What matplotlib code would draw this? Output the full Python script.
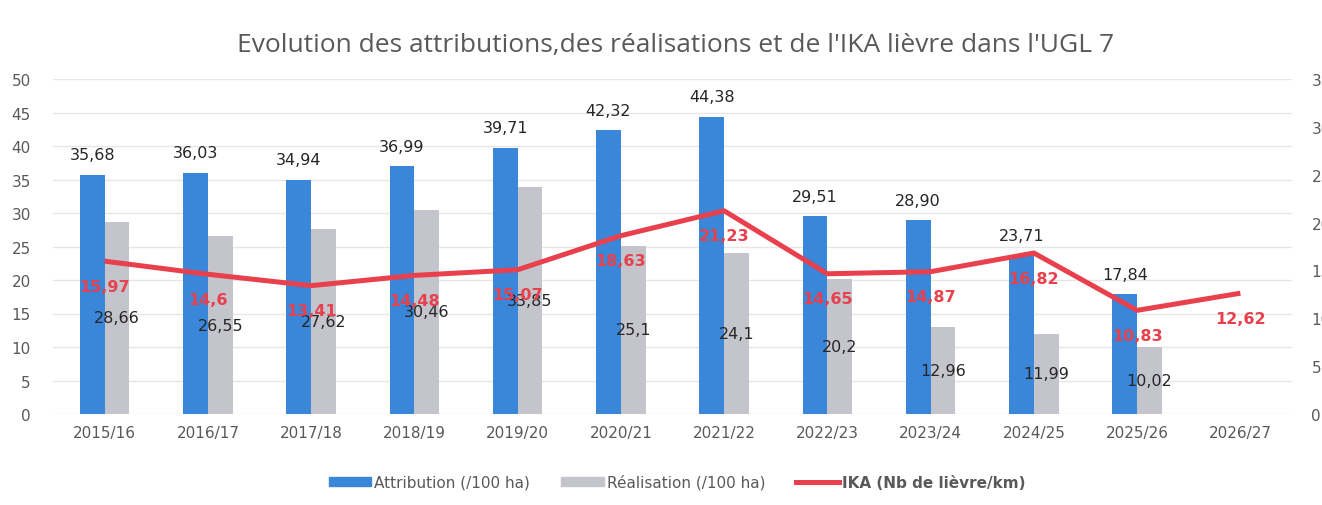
import matplotlib.pyplot as plt
import matplotlib.lines as mlines
import matplotlib.patches as mpatches
import numpy as np

# ---------- Data ----------
seasons = ["2015/16", "2016/17", "2017/18", "2018/19", "2019/20", "2020/21",
           "2021/22", "2022/23", "2023/24", "2024/25", "2025/26", "2026/27"]
attribution = [35.68, 36.03, 34.94, 36.99, 39.71, 42.32, 44.38, 29.51, 28.90, 23.71, 17.84]
attribution_lbl = ["35,68", "36,03", "34,94", "36,99", "39,71", "42,32", "44,38",
                   "29,51", "28,90", "23,71", "17,84"]
realisation = [28.66, 26.55, 27.62, 30.46, 33.85, 25.1, 24.1, 20.2, 12.96, 11.99, 10.02]
ika = [15.97, 14.6, 13.41, 14.48, 15.07, 18.63, 21.23, 14.65, 14.87, 16.82, 10.83, 12.62]

BLUE = "#3a86d9"
GREY = "#c4c4cc"
RED = "#e8404c"
TXT = "#595959"

def fr(v):
    return f"{v:g}".replace(".", ",")

# ---------- Layout ----------
fig = plt.figure(figsize=(13.22, 5.06), dpi=100)
ax = fig.add_axes([53 / 1322, 91 / 506, 1239 / 1322, 335 / 506])
ax2 = ax.twinx()

x = np.arange(len(seasons))
xb = x[:len(attribution)]
w = 0.24

ax.bar(xb - w / 2, attribution, width=w, color=BLUE, zorder=2)
ax.bar(xb + w / 2, realisation, width=w, color=GREY, zorder=2)

for i, v in enumerate(attribution):
    ax.annotate(attribution_lbl[i], (xb[i] - w / 2, v), xytext=(0, 9), textcoords="offset points",
                ha="center", va="bottom", fontsize=11.5, color="#262626")
for i, v in enumerate(realisation):
    ax.text(xb[i] + w / 2, v / 2, fr(v), ha="center", va="center", fontsize=11.5, color="#262626", zorder=4)

ax.set_xlim(-0.5, len(seasons) - 0.5)
ax.set_ylim(0, 50)
ax.set_yticks(range(0, 51, 5))
ax.set_xticks(x)
ax.set_xticklabels(seasons)
ax.grid(axis="y", color="#e6e6e6", linewidth=1, zorder=0)
ax.set_axisbelow(True)
for s in ax.spines.values():
    s.set_visible(False)
ax.tick_params(axis="both", length=0, labelsize=11, colors=TXT)
ax.tick_params(axis="y", pad=16)
ax.tick_params(axis="x", pad=8)

# ---------- IKA line on secondary axis ----------
ax2.plot(x, ika, color=RED, linewidth=3.6, zorder=3, solid_capstyle="butt")
for i, v in enumerate(ika):
    ax2.annotate(fr(v), (x[i], v), xytext=(0, -18), textcoords="offset points",
                 ha="center", va="center", fontsize=11.5, fontweight="bold", color=RED, zorder=5)
ax2.set_ylim(0, 35)
ax2.set_yticks(range(0, 36, 5))
for s in ax2.spines.values():
    s.set_visible(False)
ax2.tick_params(axis="y", length=0, labelsize=11, colors=TXT, pad=14)

fig.text(0.511, 0.91, "Evolution des attributions,des réalisations et de l'IKA lièvre dans l'UGL 7",
         ha="center", va="center", fontsize=19, color=TXT, family="Open Sans")

# ---------- Legend ----------
handles = [
    mpatches.Patch(color=BLUE, label="Attribution (/100 ha)"),
    mpatches.Patch(color=GREY, label="Réalisation (/100 ha)"),
    mlines.Line2D([], [], color=RED, linewidth=3.6, label="IKA (Nb de lièvre/km)"),
]
leg = fig.legend(handles=handles, loc="center", bbox_to_anchor=(0.512, 0.045), ncol=3,
                 frameon=False, fontsize=11, handlelength=2.8, handleheight=0.5,
                 handletextpad=0.2, columnspacing=2.0)
for t in leg.get_texts():
    t.set_color(TXT)
leg.get_texts()[2].set_fontweight("bold")

fig.savefig("out.png", dpi=100)
